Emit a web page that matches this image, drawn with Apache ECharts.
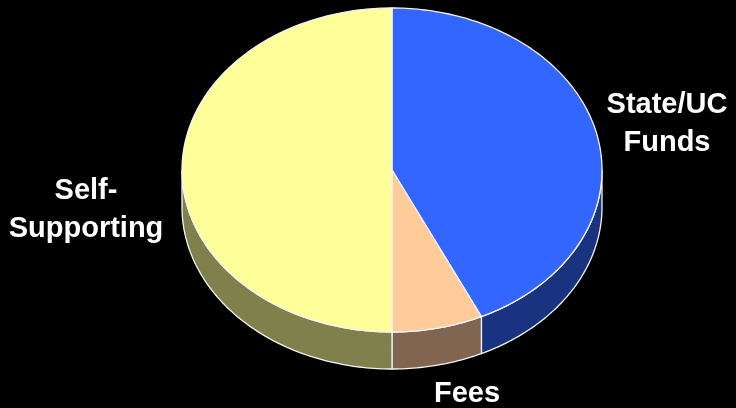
<!DOCTYPE html>
<html><head><meta charset="utf-8">
<script src="https://cdn.jsdelivr.net/npm/echarts@6/dist/echarts.min.js"></script>
<style>html,body{margin:0;padding:0;background:#000}#c{width:736px;height:408px}</style>
</head><body><div id="c"></div>
<script>
const categories = ['State/UC Funds', 'Fees', 'Self-Supporting'];
const values = [43, 7, 50];
const labelTexts = ['State/UC\nFunds', 'Fees', 'Self-\nSupporting'];
const topColors = ['#3366FF', '#FFCC99', '#FFFF99'];
const sideColors = ['#1A3380', '#806650', '#80804D'];

const total = values.reduce((a, b) => a + b, 0);
const starts = [], ends = [];
let acc = 0;
values.forEach(v => { starts.push(acc / total * 360); acc += v; ends.push(acc / total * 360); });

const DEPTH = 0.2284; // thickness in y-axis units
const chart = echarts.init(document.getElementById('c'), null, {renderer: 'canvas'});

function renderItem(params, api) {
  const i = params.dataIndex;
  const a0 = starts[i], a1 = ends[i];
  const pt = (deg, dy) => { const r = deg * Math.PI / 180; return api.coord([Math.sin(r), Math.cos(r) - dy]); };
  const arc = (from, to, dy) => {
    const n = Math.max(2, Math.ceil(Math.abs(to - from)));
    const p = [];
    for (let k = 0; k <= n; k++) p.push(pt(from + (to - from) * k / n, dy));
    return p;
  };
  const stroke = {stroke: '#F4F4F4', lineWidth: 1.3, lineJoin: 'round'};
  const children = [];
  const s = Math.max(a0, 90), e = Math.min(a1, 270);
  if (e > s) {
    const pts = arc(s, e, 0).concat(arc(e, s, DEPTH));
    children.push({type: 'polygon', shape: {points: pts}, style: Object.assign({fill: sideColors[i]}, stroke)});
  }
  const topPts = [api.coord([0, 0])].concat(arc(a0, a1, 0));
  children.push({type: 'polygon', shape: {points: topPts}, style: Object.assign({fill: topColors[i]}, stroke)});
  return {type: 'group', children: children};
}

const font = 'bold 29px "Liberation Sans", Arial, sans-serif';
const labelPos = [[667, 124], [467, 394], [86, 210]];

chart.setOption({
  backgroundColor: '#000',
  animation: false,
  grid: {left: 182, right: 134, top: 8, bottom: 76},
  xAxis: {type: 'value', min: -1, max: 1, show: false},
  yAxis: {type: 'value', min: -1, max: 1, show: false},
  series: [{
    type: 'custom',
    coordinateSystem: 'cartesian2d',
    clip: false,
    renderItem: renderItem,
    encode: {x: -1, y: -1},
    data: values.map((v, i) => ({name: categories[i], value: [i, v]}))
  }],
  graphic: labelTexts.map((t, i) => ({
    type: 'text', x: labelPos[i][0], y: labelPos[i][1],
    style: {text: t, fill: '#fff', font: font, align: 'center', verticalAlign: 'middle',
            textAlign: 'center', textVerticalAlign: 'middle', lineHeight: 37.5}
  }))
});
</script></body></html>
